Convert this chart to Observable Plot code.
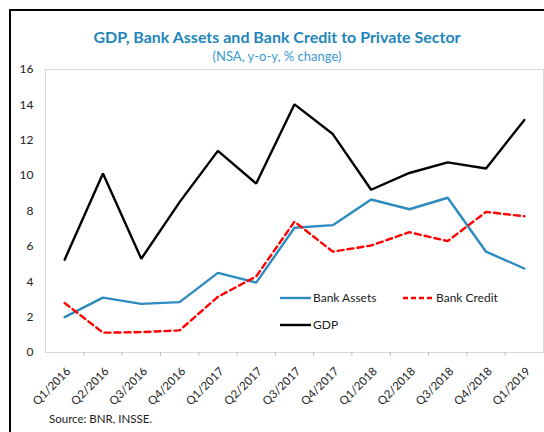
<!DOCTYPE html>
<html>
<head>
<meta charset="utf-8">
<script src="https://cdn.jsdelivr.net/npm/d3@7"></script>
<script src="https://cdn.jsdelivr.net/npm/@observablehq/plot@0.6"></script>
<style>
  html, body { margin: 0; padding: 0; background: #fff; }
  #wrap { position: relative; width: 544px; height: 432px; overflow: hidden; font-family: Lato, "Noto Sans", sans-serif; }
  #border { position: absolute; left: 9px; top: 9px; width: 600px; height: 600px; border-left: 2.5px solid #000; border-top: 2.5px solid #000; box-sizing: border-box; }
  #chart { position: absolute; left: 0; top: 0; }
  .title { position: absolute; left: 0; width: 554px; text-align: center; color: #1f86bb; white-space: nowrap; }
  #t1 { top: 27px; font-size: 16px; font-weight: 700; }
  #t2 { top: 48px; font-size: 13px; color: #3a9ad0; }
  #src { position: absolute; left: 49px; top: 412px; font-size: 11.5px; color: #222; }
  #legend { position: absolute; left: 0; top: 0; pointer-events: none; }
</style>
</head>
<body>
<div id="wrap">
  <div id="chart"></div>
  <div id="border"></div>
  <div class="title" id="t1">GDP, Bank Assets and Bank Credit to Private Sector</div>
  <div class="title" id="t2">(NSA, y-o-y, % change)</div>
  <div id="src">Source: BNR, INSSE.</div>
</div>
<script>
const quarters = ["Q1/2016","Q2/2016","Q3/2016","Q4/2016","Q1/2017","Q2/2017","Q3/2017","Q4/2017","Q1/2018","Q2/2018","Q3/2018","Q4/2018","Q1/2019"];
const bankAssets = [2.0, 3.1, 2.75, 2.85, 4.5, 3.95, 7.05, 7.2, 8.65, 8.1, 8.75, 5.7, 4.75];
const bankCredit = [2.8, 1.12, 1.15, 1.25, 3.15, 4.3, 7.4, 5.7, 6.05, 6.8, 6.3, 7.95, 7.7];
const gdp = [5.25, 10.12, 5.3, 8.5, 11.4, 9.55, 14.03, 12.35, 9.2, 10.15, 10.75, 10.4, 13.15];
const yTicks = [0, 2, 4, 6, 8, 10, 12, 14, 16];

const seriesNames = ["Bank Assets", "Bank Credit", "GDP"];
const seriesColors = ["#2e8bc0", "#ff0000", "#000000"];
const seriesDash = [null, "6,4", null];

const rows = [];
quarters.forEach((q, i) => {
  rows.push({i, q, s: "Bank Assets", v: bankAssets[i]});
  rows.push({i, q, s: "Bank Credit", v: bankCredit[i]});
  rows.push({i, q, s: "GDP", v: gdp[i]});
});
const idx = quarters.map((_, i) => i);
const bounds = quarters.slice(1).map((_, i) => i + 0.5);

const chart = Plot.plot({
  width: 544,
  height: 432,
  marginTop: 69,
  marginBottom: 80,
  marginLeft: 45,
  marginRight: 1,
  style: {fontFamily: "Lato, 'Noto Sans', sans-serif", fontSize: "12px", color: "#222", background: "transparent"},
  x: {domain: [-0.5, quarters.length - 0.5]},
  y: {domain: [0, 16]},
  marks: [
    Plot.frame({stroke: "#d9d9d9", strokeWidth: 1}),
    Plot.axisY(yTicks, {tickSize: 0, tickPadding: 12, label: null, fontSize: 12, fill: "#222"}),
    Plot.axisX(bounds, {tickSize: 4, stroke: "#bbb", tickFormat: () => "", label: null}),
    Plot.axisX(idx, {tickSize: 0, tickRotate: -45, tickPadding: 17, dx: 4, tickFormat: i => quarters[i], label: null, fontSize: 11.5, fill: "#222", textAnchor: "end"}),
    ...seriesNames.map((name, k) =>
      Plot.line(rows.filter(d => d.s === name), {
        x: "i", y: "v",
        stroke: seriesColors[k],
        strokeWidth: 2.4,
        strokeDasharray: seriesDash[k],
        strokeLinejoin: "miter"
      })
    )
  ]
});
document.getElementById("chart").appendChild(chart);

// Legend (inside the plot area)
const legendItems = [
  {name: seriesNames[0], k: 0, x: 280, y: 298},
  {name: seriesNames[1], k: 1, x: 403, y: 298},
  {name: seriesNames[2], k: 2, x: 280, y: 325}
];
const ns = "http://www.w3.org/2000/svg";
const lg = document.createElementNS(ns, "svg");
lg.setAttribute("id", "legend");
lg.setAttribute("width", 544);
lg.setAttribute("height", 432);
lg.style.fontFamily = "Lato, 'Noto Sans', sans-serif";
legendItems.forEach(it => {
  const ln = document.createElementNS(ns, "line");
  ln.setAttribute("x1", it.x); ln.setAttribute("x2", it.x + 31);
  ln.setAttribute("y1", it.y); ln.setAttribute("y2", it.y);
  ln.setAttribute("stroke", seriesColors[it.k]);
  ln.setAttribute("stroke-width", 2.4);
  if (seriesDash[it.k]) ln.setAttribute("stroke-dasharray", "5,3");
  lg.appendChild(ln);
  const tx = document.createElementNS(ns, "text");
  tx.setAttribute("x", it.x + 33);
  tx.setAttribute("y", it.y);
  tx.setAttribute("dy", "0.35em");
  tx.setAttribute("font-size", 12);
  tx.setAttribute("fill", "#222");
  tx.textContent = it.name;
  lg.appendChild(tx);
});
document.getElementById("wrap").appendChild(lg);
</script>
</body>
</html>
